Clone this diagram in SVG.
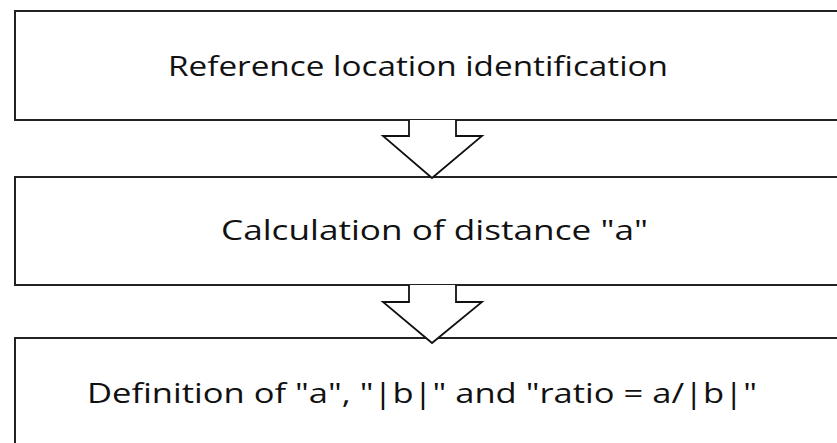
<svg xmlns="http://www.w3.org/2000/svg" width="837" height="443" viewBox="0 0 837 443">
<style>
.box{fill:#fff;stroke:#222;stroke-width:2}
.arr{fill:#fff;stroke:#111;stroke-width:1.8;stroke-linejoin:miter}
.lbl{font-family:"Open Sans","Liberation Sans",Arial,sans-serif;font-size:28px;fill:#111}
</style>
<rect width="837" height="443" fill="#fff"/>
<g id="node1">
<rect class="box" x="15" y="11" width="840" height="109"/>
<text class="lbl" x="168" y="76" textLength="500" lengthAdjust="spacingAndGlyphs">Reference location identification</text>
</g>
<g id="node2">
<rect class="box" x="15" y="177" width="840" height="108"/>
<text class="lbl" x="221" y="240" textLength="427" lengthAdjust="spacingAndGlyphs">Calculation of distance "a"</text>
</g>
<g id="node3">
<rect class="box" x="15" y="338" width="840" height="120"/>
<text class="lbl" x="87" y="403" textLength="670" lengthAdjust="spacingAndGlyphs">Definition of "a", "|b|" and "ratio = a/|b|"</text>
</g>
<g id="connectors">
<path class="arr" d="M409,120 L409,136 L383,136 L432,178 L482,136 L456,136 L456,120"/>
<path class="arr" d="M409,285 L409,302 L383,302 L432,343 L482,302 L456,302 L456,285"/>
</g>
</svg>
